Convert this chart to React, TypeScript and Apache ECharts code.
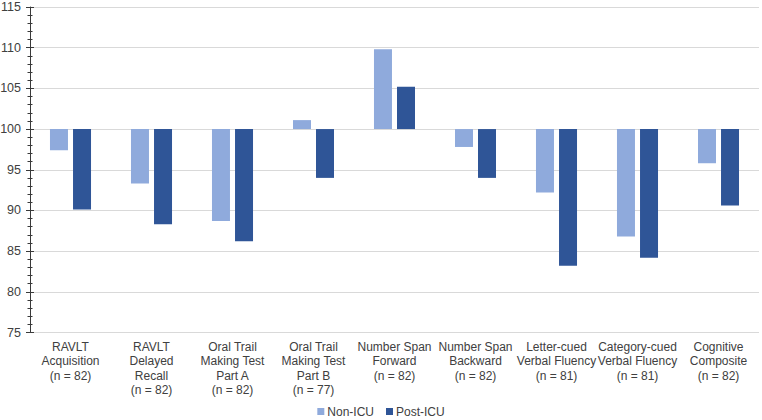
import React, { useEffect, useRef } from "react";
import * as echarts from "echarts";

const categories = [
  "RAVLT\nAcquisition\n(n = 82)",
  "RAVLT\nDelayed\nRecall\n(n = 82)",
  "Oral Trail\nMaking Test\nPart A\n(n = 82)",
  "Oral Trail\nMaking Test\nPart B\n(n = 77)",
  "Number Span\nForward\n(n = 82)",
  "Number Span\nBackward\n(n = 82)",
  "Letter-cued\nVerbal Fluency\n(n = 81)",
  "Category-cued\nVerbal Fluency\n(n = 81)",
  "Cognitive\nComposite\n(n = 82)",
];
const nonIcu = [97.4, 93.3, 88.7, 101.1, 109.8, 97.8, 92.2, 86.8, 95.8];
const postIcu = [90.1, 88.3, 86.2, 94.0, 105.2, 94.0, 83.2, 84.2, 90.6];
const baseline = 100;
const yMin = 75;
const yMax = 115;
const yStep = 5;

export default function App() {
  const ref = useRef<HTMLDivElement>(null);
  useEffect(() => {
    if (!ref.current) return;
    const chart = echarts.init(ref.current, undefined, { renderer: "svg" });
    const axisColor = "#3a3a3a";
    const textColor = "#404040";
    const font = "'Liberation Sans'";
    chart.setOption({
      animation: false,
      textStyle: { fontFamily: font },
      grid: {
        left: 30,
        right: 3,
        top: 7,
        bottom: 87.5,
        containLabel: false,
        outerBoundsMode: "none",
      },
      legend: {
        data: ["Non-ICU", "Post-ICU"],
        left: "center",
        top: 405,
        padding: 0,
        itemWidth: 7,
        itemHeight: 7,
        itemGap: 12,
        icon: "rect",
        textStyle: { fontSize: 12, lineHeight: 13, color: textColor, fontFamily: font, padding: [0, 0, 0, -2] },
      },
      xAxis: {
        type: "category",
        data: categories,
        axisLine: { show: false, onZero: false },
        axisTick: { show: false },
        axisLabel: {
          interval: 0,
          fontSize: 12,
          lineHeight: 14.5,
          margin: 7,
          color: textColor,
          fontFamily: font,
        },
      },
      yAxis: [
        {
          type: "value",
          min: yMin - baseline,
          max: yMax - baseline,
          interval: yStep,
          axisLine: { show: true, lineStyle: { color: axisColor, width: 1 } },
          axisTick: { show: true, length: 4, lineStyle: { color: axisColor } },
          minorTick: { show: true, splitNumber: 5, length: 2.5, lineStyle: { color: axisColor } },
          axisLabel: {
            formatter: (v: number) => String(v + baseline),
            fontSize: 12.5,
            color: textColor,
            margin: 9,
            fontFamily: font,
          },
          splitLine: { show: true, lineStyle: { color: "#d9d9d9", width: 1 } },
        },
        {
          type: "value",
          position: "left",
          offset: 0,
          min: yMin - baseline,
          max: yMax - baseline,
          interval: yStep,
          axisLine: { show: false },
          axisTick: { show: true, inside: true, length: 4, lineStyle: { color: axisColor } },
          minorTick: { show: true, splitNumber: 5, length: 2.5, lineStyle: { color: axisColor } },
          axisLabel: { show: false },
          splitLine: { show: false },
        },
      ],
      series: [
        {
          name: "Non-ICU",
          type: "bar",
          data: nonIcu.map((v) => +(v - baseline).toFixed(2)),
          barWidth: 18,
          barGap: "28%",
          itemStyle: { color: "#8FAADC" },
        },
        {
          name: "Post-ICU",
          type: "bar",
          data: postIcu.map((v) => +(v - baseline).toFixed(2)),
          barWidth: 18,
          barGap: "28%",
          itemStyle: { color: "#2F5597" },
        },
      ],
    });
    return () => chart.dispose();
  }, []);
  return (
    <div
      ref={ref}
      style={{ position: "absolute", left: 0, top: 0, width: 762, height: 420, background: "#fff" }}
    />
  );
}
